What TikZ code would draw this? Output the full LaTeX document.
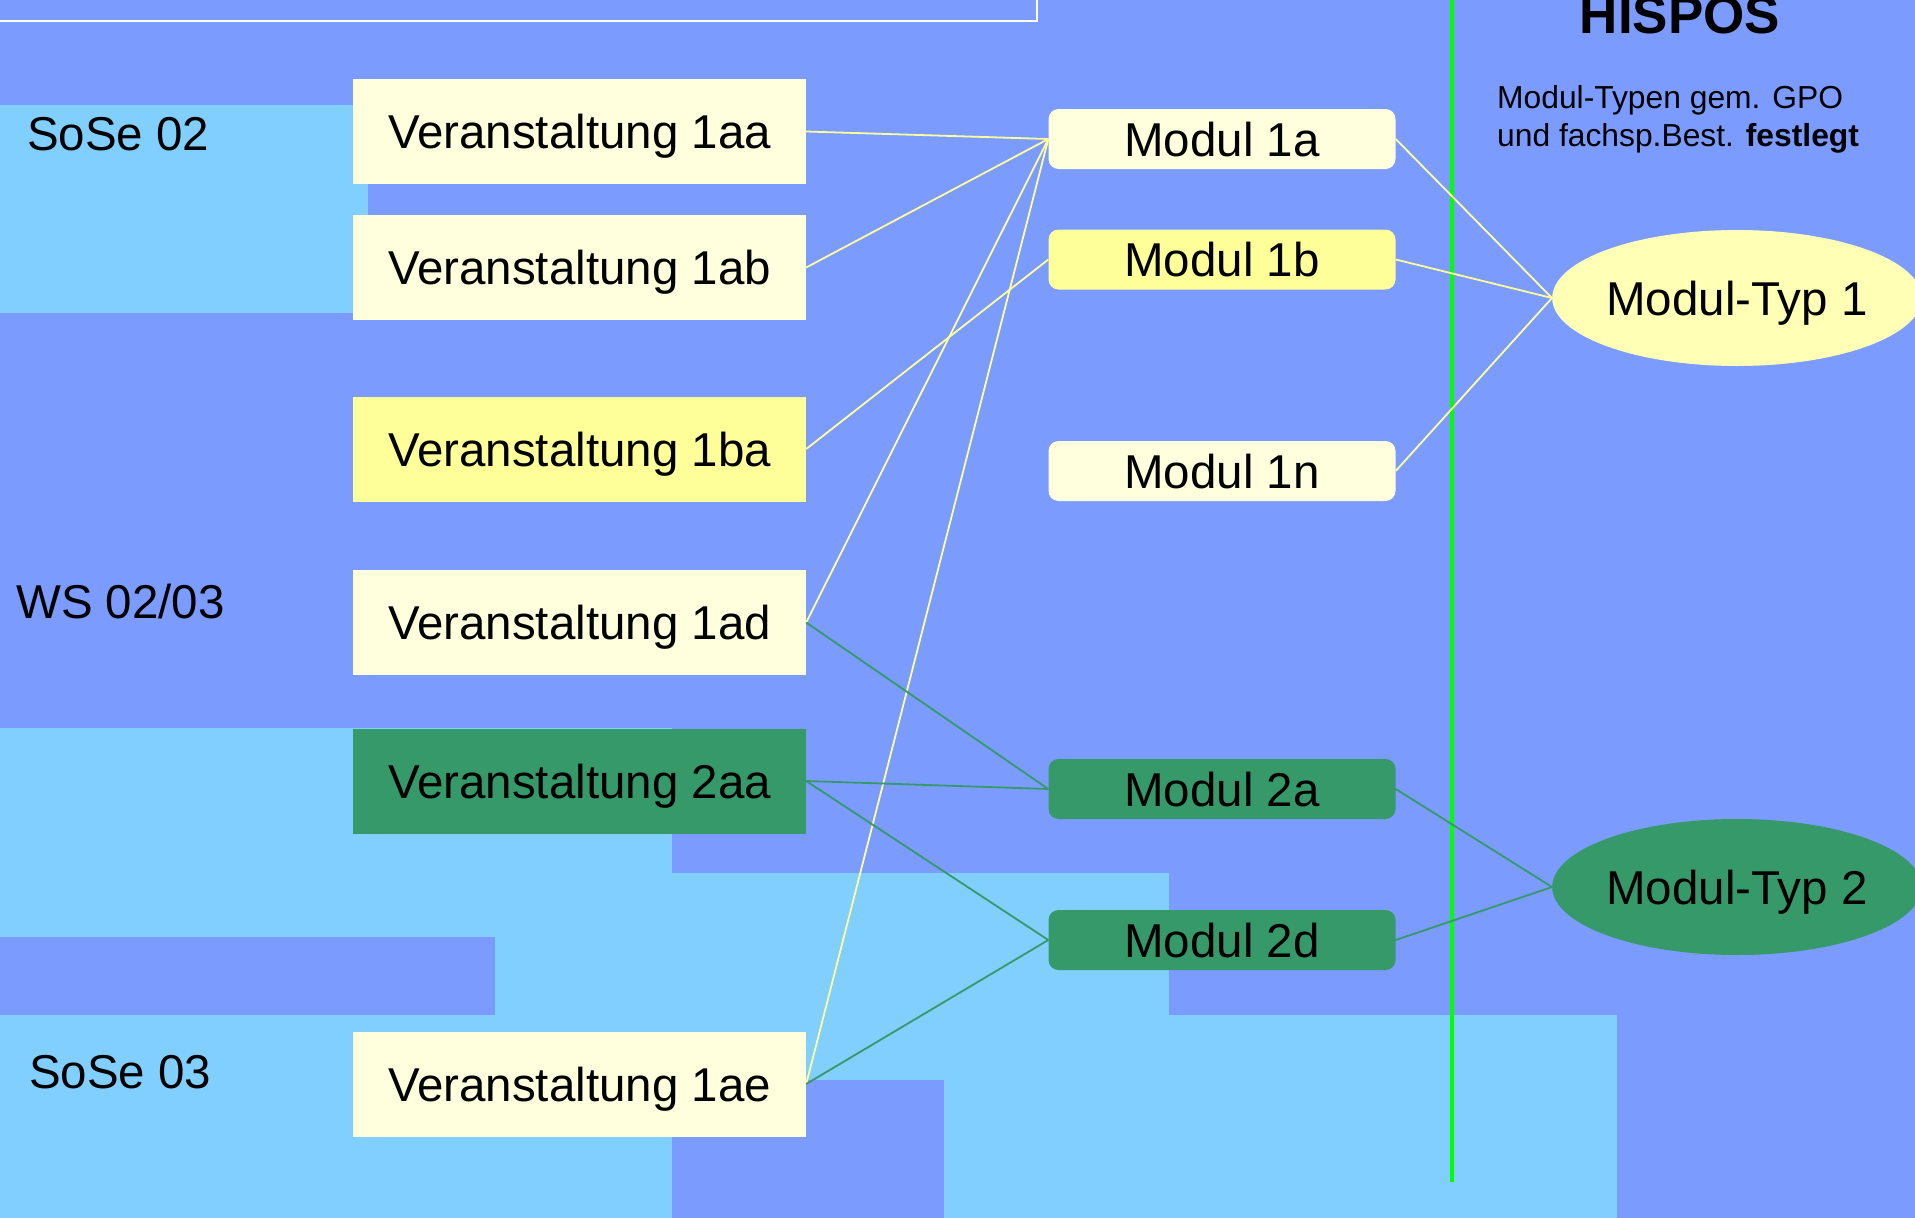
\documentclass[tikz,border=0pt]{standalone}
\usepackage{fontspec}
\setmainfont{Liberation Sans}
\usetikzlibrary{shapes.geometric}
\definecolor{bgblue}{HTML}{7B9BFF}
\definecolor{lblue}{HTML}{80CFFF}
\definecolor{cream}{HTML}{FFFFDD}
\definecolor{yel}{HTML}{FFFF99}
\definecolor{grn}{HTML}{369969}
\definecolor{ellyel}{HTML}{FFFFB5}
\definecolor{vline}{HTML}{00FF00}
\begin{document}
\begin{tikzpicture}[x=1pt,y=-1pt,
  big/.style={font=\fontsize{47.5}{57}\selectfont, text height=34pt, text depth=0pt, inner sep=0pt},
  vbox/.style={big, minimum width=453pt, minimum height=105pt},
  mbox/.style={big, rounded corners=10pt, minimum width=347pt, minimum height=60pt},
  ellnode/.style={big, ellipse, minimum width=366pt, minimum height=136pt},
  ylink/.style={draw=yel, line width=1.8pt},
  glink/.style={draw=grn, line width=1.8pt},
  lab/.style={big, anchor=base west}]
\useasboundingbox (0,0) rectangle (1915,1218);
\clip (0,0) rectangle (1915,1218);
\fill[bgblue] (0,0) rectangle (1915,1218);
% light blue regions
\fill[lblue] (0,105) rectangle (368,313);
\fill[lblue] (0,728) rectangle (672,873);
\fill[lblue] (0,873) rectangle (1169,1015);
\fill[bgblue] (0,937) rectangle (495,1015);
\fill[lblue] (0,1015) rectangle (1617,1218);
\fill[bgblue] (672,1080) rectangle (944,1218);
% white outline at top
\draw[white, line width=2pt] (-5,-5) rectangle (1037,21);
% green vertical line
\draw[vline, line width=3.5pt] (1452,0) -- (1452,1182);
% labels
\node[lab] (sose02) at (27,150) {SoSe 02};
\node[lab] (ws0203) at (16,618) {WS 02/03};
\node[lab] (sose03) at (29,1088) {SoSe 03};
\node[font=\fontsize{53}{60}\selectfont\bfseries, anchor=base, inner sep=0pt] (hispos) at (1680,33) {HISPOS};
\node[font=\fontsize{31.8}{38}\selectfont, anchor=base west, inner sep=0pt] (desc1) at (1497,108) {Modul-Typen gem. GPO};
\node[font=\fontsize{31.8}{38}\selectfont, anchor=base west, inner sep=0pt] (desc2) at (1497,146) {und fachsp.Best. \textbf{festlegt}};
% Veranstaltungen
\node[vbox, fill=cream] (v1aa) at (579.5,131.5) {Veranstaltung 1aa};
\node[vbox, fill=cream] (v1ab) at (579.5,267.5) {Veranstaltung 1ab};
\node[vbox, fill=yel] (v1ba) at (579.5,449) {Veranstaltung 1ba};
\node[vbox, fill=cream] (v1ad) at (579.5,622.5) {Veranstaltung 1ad};
\node[vbox, fill=grn] (v2aa) at (579.5,781) {Veranstaltung 2aa};
\node[vbox, fill=cream] (v1ae) at (579.5,1084) {Veranstaltung 1ae};
% Module
\node[mbox, fill=cream] (m1a) at (1222,139) {Modul 1a};
\node[mbox, fill=yel] (m1b) at (1222,259.5) {Modul 1b};
\node[mbox, fill=cream] (m1n) at (1222,471) {Modul 1n};
\node[mbox, fill=grn] (m2a) at (1222,789) {Modul 2a};
\node[mbox, fill=grn] (m2d) at (1222,940) {Modul 2d};
% Modul-Typen
\node[ellnode, fill=ellyel] (mt1) at (1737,298) {Modul-Typ 1};
\node[ellnode, fill=grn] (mt2) at (1737,887) {Modul-Typ 2};
% yellow links
\draw[ylink] (v1aa.east) -- (m1a.west);
\draw[ylink] (v1ab.east) -- (m1a.west);
\draw[ylink] (v1ba.east) -- (m1b.west);
\draw[ylink] (v1ad.east) -- (m1a.west);
\draw[ylink] (v1ae.east) -- (m1a.west);
\draw[ylink] (m1a.east) -- (mt1.west);
\draw[ylink] (m1b.east) -- (mt1.west);
\draw[ylink] (m1n.east) -- (mt1.west);
% green links
\draw[glink] (v1ad.east) -- (m2a.west);
\draw[glink] (v2aa.east) -- (m2a.west);
\draw[glink] (v2aa.east) -- (m2d.west);
\draw[glink] (v1ae.east) -- (m2d.west);
\draw[glink] (m2a.east) -- (mt2.west);
\draw[glink] (m2d.east) -- (mt2.west);
\end{tikzpicture}
\end{document}
